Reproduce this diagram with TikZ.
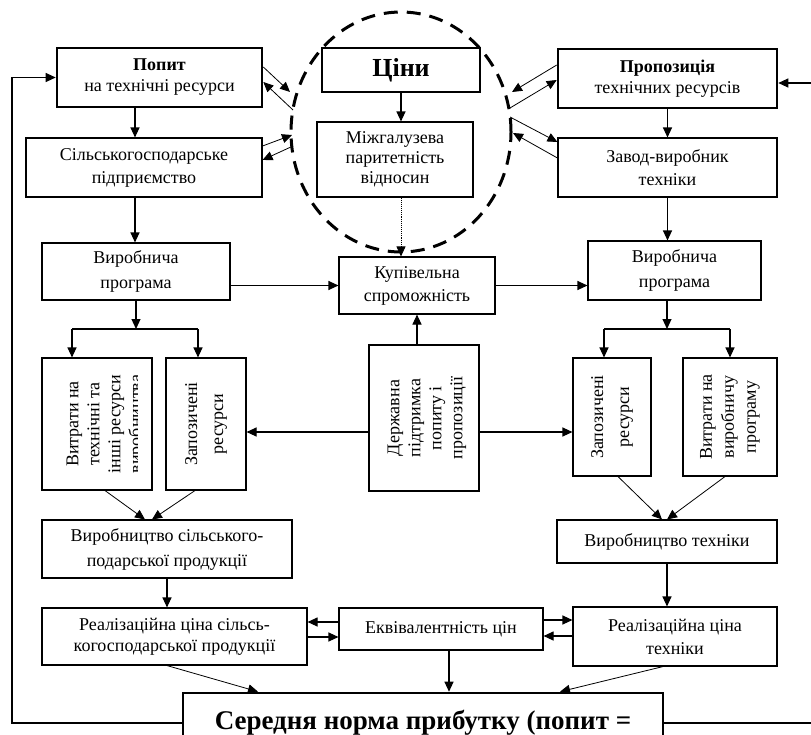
\documentclass[tikz,border=0pt]{standalone}
\usepackage{fontspec}
\setmainfont{Liberation Serif}
\usetikzlibrary{arrows.meta,shapes.geometric}

\tikzstyle{bS}=[draw,line width=1.1pt,inner sep=0pt,align=center,font=\fontsize{18}{23}\selectfont]
\tikzstyle{bTS}=[bS,line width=2.6pt]
\tikzstyle{tS}=[inner sep=0pt,align=center,rotate=90,font=\fontsize{18}{21}\selectfont]
\tikzstyle{eS}=[line width=1.1pt,-{Triangle[length=10pt,width=9pt]}]
\tikzstyle{eTS}=[eS,line width=0.8pt]
\tikzstyle{lS}=[line width=1.1pt]
\tikzstyle{dS}=[eS,densely dotted,line width=0.8pt]
\tikzstyle{cS}=[ellipse,draw,dash pattern=on 14pt off 9pt,line width=3pt,minimum width=220pt,minimum height=240pt,inner sep=0pt]

\begin{document}
\begin{tikzpicture}[x=1pt,y=-1pt]%[1 unit = 1 px of the scheme]
                \useasboundingbox (0,0) rectangle (811,734);
                \clip (0,0) rectangle (811,734);
                \draw (401,132) node[cS] (ring) {};
                \draw (159.5,77.5) node[bTS,minimum width=205pt,minimum height=59pt,font=\fontsize{18}{21}\selectfont] (popit) {\textbf{Попит}\\на технічні ресурси};
                \draw (401,70) node[bTS,minimum width=158pt,minimum height=44pt,font=\bfseries\fontsize{26}{30}\selectfont] (tsiny) {Ціни};
                \draw (667.5,78.5) node[bTS,minimum width=219pt,minimum height=59pt,font=\fontsize{18}{21}\selectfont] (propoz) {\textbf{Пропозиція}\\технічних ресурсів};
                \draw (144,167.5) node[bS,minimum width=236pt,minimum height=59pt] (silgosp) {Сільськогосподарське\\підприємство};
                \draw (395,159.5) node[bS,minimum width=156pt,minimum height=75pt,font=\fontsize{18}{20}\selectfont] (mizhg) {Міжгалузева\\паритетність\\відносин};
                \draw (667.5,167.5) node[bS,minimum width=219pt,minimum height=59pt] (zavod) {Завод-виробник\\техніки};
                \draw (136,271.5) node[bS,minimum width=188pt,minimum height=57pt,font=\fontsize{18}{25}\selectfont] (vprogL) {Виробнича\\програма};
                \draw (417,285.5) node[bS,minimum width=156pt,minimum height=57pt] (kupiv) {Купівельна\\спроможність};
                \draw (674.5,270.5) node[bS,minimum width=173pt,minimum height=59pt,font=\fontsize{18}{25}\selectfont] (vprogR) {Виробнича\\програма};
                % vertical boxes
                \draw (97,424) node[bS,minimum width=110pt,minimum height=132pt] (vytrL) {};
                \draw (206,424) node[bS,minimum width=80pt,minimum height=132pt] (zapozL) {};
                \draw (424,418) node[bS,minimum width=110pt,minimum height=146pt] (derzh) {};
                \draw (612,417) node[bS,minimum width=78pt,minimum height=118pt] (zapozR) {};
                \draw (730,417) node[bS,minimum width=94pt,minimum height=118pt] (vytrR) {};
                \begin{scope}
                    \clip (vytrL.south west) rectangle ([xshift=-15pt]vytrL.north east);
                    \draw (106,424) node[tS] (vytrLt) {Витрати на\\технічні та\\інші ресурси\\виробництва};
                \end{scope}
                \draw (206,424) node[tS,font=\fontsize{18}{26}\selectfont] (zapozLt) {Запозичені\\ресурси};
                \draw (427,418) node[tS] (derzht) {Державна\\підтримка\\попиту і\\пропозиції};
                \draw (612,417) node[tS,font=\fontsize{18}{26}\selectfont] (zapozRt) {Запозичені\\ресурси};
                \draw (730,417) node[tS,font=\fontsize{18}{22}\selectfont] (vytrRt) {Витрати на\\виробничу\\програму};
                % lower rows
                \draw (167,549) node[bS,minimum width=250pt,minimum height=58pt,font=\fontsize{18}{25}\selectfont] (vyrsg) {Виробництво сільського-\\подарської продукції};
                \draw (667,541.5) node[bS,minimum width=220pt,minimum height=43pt] (vyrteh) {Виробництво техніки};
                \draw (174.5,636.5) node[bS,minimum width=265pt,minimum height=57pt,font=\fontsize{18}{21}\selectfont] (realL) {Реалізаційна ціна сільсь-\\когосподарської продукції};
                \draw (441,629) node[bS,minimum width=204pt,minimum height=42pt] (ekviv) {Еквівалентність цін};
                \draw (675,636.5) node[bS,minimum width=204pt,minimum height=59pt] (realR) {Реалізаційна ціна\\техніки};
                \draw (423,723) node[bTS,minimum width=480pt,minimum height=60pt,font=\bfseries\fontsize{27}{30}\selectfont] (seredn) {Середня норма прибутку (попит =};
                % helper points
                \coordinate (axL) at (135,0);
                \coordinate (brL) at (136,329);
                \coordinate (brR) at (667,329);
                \coordinate (ay) at (0,432);
                \coordinate (fbL) at (12,0);
                \coordinate (fbR) at (830,0);
                \coordinate (prIn) at ([yshift=-4.5pt]propoz.east);
                \coordinate (pL1) at (290,92);
                \coordinate (pL2) at (293,110);
                \coordinate (pL3) at (292,135);
                \coordinate (pL4) at (293,146);
                \coordinate (pR1) at (512,92);
                \coordinate (pR2) at (510,108);
                \coordinate (pR3) at (510,117);
                \coordinate (pR4) at (513,133);
                \coordinate (ekL1) at ([yshift=7pt]ekviv.west);
                \coordinate (ekL2) at ([yshift=-8pt]ekviv.west);
                \coordinate (ekR1) at ([yshift=9pt]ekviv.east);
                \coordinate (ekR2) at ([yshift=-7pt]ekviv.east);
                \coordinate (ekD) at ([xshift=8pt]ekviv.south);
                % connectors
                \draw[eS] (popit.south -| axL) -- (silgosp.north -| axL);
                \draw[eS] (silgosp.south -| axL) -- (vprogL.north -| axL);
                \draw[eS] (tsiny.south) -- (tsiny.south |- mizhg.north);
                \draw[dS] (mizhg.south -| tsiny) -- (kupiv.north -| tsiny);
                \draw[eS] (propoz.south) -- (propoz.south |- zavod.north);
                \draw[eS] (zavod.south) -- (zavod.south |- vprogR.north);
                \draw[eS] (vprogL.east |- kupiv) -- (kupiv.west);
                \draw[eS] (kupiv.east) -- (kupiv.east -| vprogR.west);
                \draw[eS] (derzh.north -| kupiv) -- (kupiv.south);
                \draw[eS] (derzh.west |- ay) -- (zapozL.east |- ay);
                \draw[eS] (derzh.east |- ay) -- (zapozR.west |- ay);
                \draw[eS] (vprogL.south -| brL) -- (brL);
                \draw[lS] ([xshift=-64pt]brL) -- ([xshift=62pt]brL);
                \draw[eS] ([xshift=-64pt]brL) -- ([xshift=-64pt]brL |- vytrL.north);
                \draw[eS] ([xshift=62pt]brL) -- ([xshift=62pt]brL |- zapozL.north);
                \draw[eS] (vprogR.south -| brR) -- (brR);
                \draw[lS] ([xshift=-63pt]brR) -- ([xshift=63pt]brR);
                \draw[eS] ([xshift=-63pt]brR) -- ([xshift=-63pt]brR |- zapozR.north);
                \draw[eS] ([xshift=63pt]brR) -- ([xshift=63pt]brR |- vytrR.north);
                % around the ring
                \draw[eTS] ([yshift=10.5pt]popit.east) -- (pL1);
                \draw[eTS] (pL2) -- ([yshift=-4.5pt]popit.east);
                \draw[eTS] ([yshift=21.5pt]silgosp.east) -- (pL3);
                \draw[eTS] (pL4) -- ([yshift=7.5pt]silgosp.east);
                \draw[eTS] ([yshift=13.5pt]propoz.west) -- (pR1);
                \draw[eTS] (pR2) -- ([yshift=-1.5pt]propoz.west);
                \draw[eTS] (pR3) -- ([yshift=25.5pt]zavod.west);
                \draw[eTS] ([yshift=9.5pt]zavod.west) -- (pR4);
                % lower part
                \draw[eTS] ([xshift=8pt]vytrL.south) -- ([xshift=-22pt]vyrsg.north);
                \draw[eTS] ([xshift=-11pt]zapozL.south) -- ([xshift=-15pt]vyrsg.north);
                \draw[eTS] ([xshift=6pt]zapozR.south) -- ([xshift=-5pt]vyrteh.north);
                \draw[eTS] ([xshift=-5pt]vytrR.south) -- (vyrteh.north);
                \draw[eS] (vyrsg.south) -- (vyrsg.south |- realL.north);
                \draw[eS] (vyrteh.south) -- (vyrteh.south |- realR.north);
                \draw[eS] (ekL1) -- (ekL1 -| realL.east);
                \draw[eS] (ekL2 -| realL.east) -- (ekL2);
                \draw[eS] (ekR1) -- (ekR1 -| realR.west);
                \draw[eS] (ekR2 -| realR.west) -- (ekR2);
                \draw[eS] (ekD) -- (ekD |- seredn.north);
                \draw[eTS] ([xshift=-7.5pt]realL.south) -- ([xshift=-165pt]seredn.north);
                \draw[eTS] ([xshift=-12pt]realR.south) -- ([xshift=137pt]seredn.north);
                % feedback
                \draw[eS] (seredn.west) -| (fbL |- popit.west) -- (popit.west);
                \draw[eS] (seredn.east) -| (fbR |- prIn) -- (prIn);
        \end{tikzpicture}
\end{document}
